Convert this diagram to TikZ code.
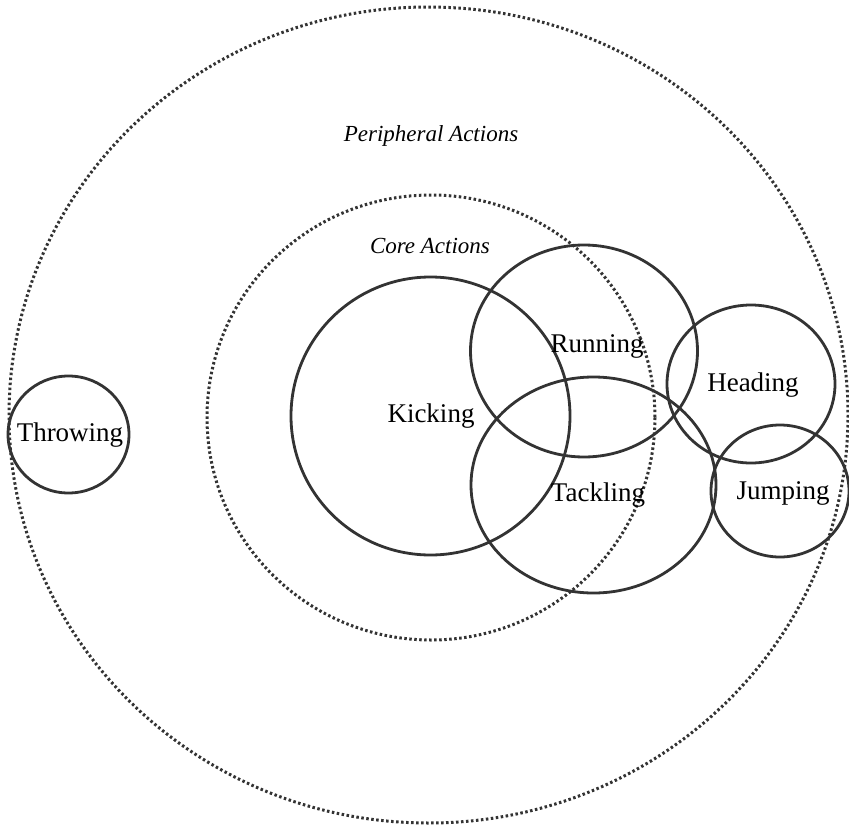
\documentclass[tikz,border=0pt]{standalone}
\usepackage{fontspec}
\setmainfont{Liberation Serif}
\definecolor{ink}{HTML}{333333}
\begin{document}
\begin{tikzpicture}[x=1pt,y=-1pt,
  ring/.style={draw=ink,line width=2.8pt},
  dotring/.style={draw=ink,line width=3pt,dash pattern=on 2.5pt off 2.5pt},
  lab/.style={inner sep=0pt,font=\fontsize{27}{32}\selectfont},
  zone/.style={inner sep=0pt,font=\fontsize{23}{28}\selectfont\itshape}]
\useasboundingbox (0,0) rectangle (849,827);
% zones
\draw[dotring] (428.5,415) ellipse [x radius=419.5, y radius=408];
\draw[dotring] (431,417.5) ellipse [x radius=224, y radius=222.5];
% actions
\draw[ring] (430.5,416) ellipse [x radius=139.5, y radius=139];
\draw[ring] (584,351) ellipse [x radius=113.5, y radius=106];
\draw[ring] (593.5,485) ellipse [x radius=122.5, y radius=108];
\draw[ring] (751,384) ellipse [x radius=84, y radius=79];
\draw[ring] (780,491) ellipse [x radius=69, y radius=66];
\draw[ring] (68.5,434.5) ellipse [x radius=60.5, y radius=58.5];
% labels
\node[zone] (peripheral) at (431,136) {Peripheral Actions};
\node[zone] (core) at (430,246) {Core Actions};
\node[lab] (kicking) at (431,416) {Kicking};
\node[lab] (running) at (597,346) {Running};
\node[lab] (tackling) at (598,495) {Tackling};
\node[lab] (heading) at (753,385) {Heading};
\node[lab] (jumping) at (783,493) {Jumping};
\node[lab] (throwing) at (70,435) {Throwing};
\end{tikzpicture}
\end{document}
